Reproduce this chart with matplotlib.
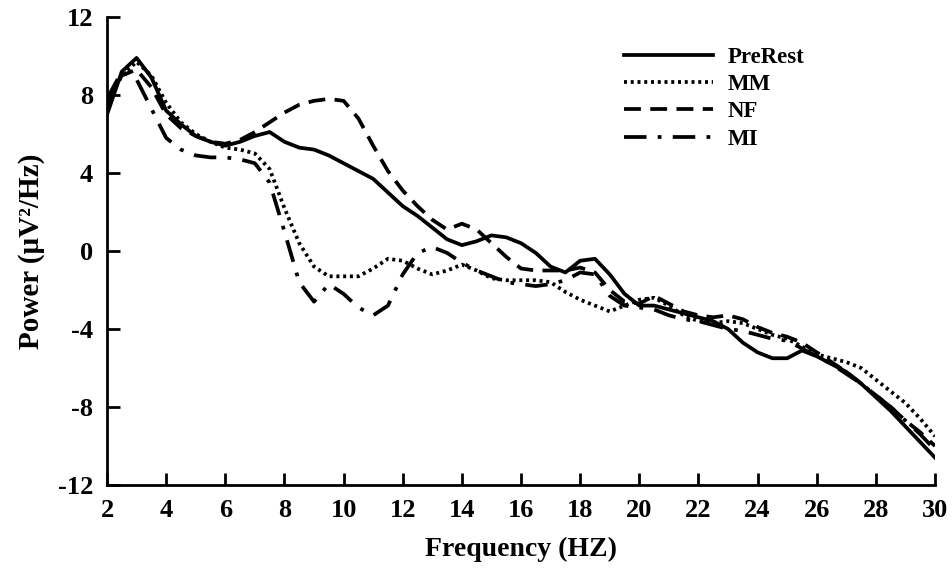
import matplotlib.pyplot as plt

plt.rcParams['font.family'] = ['Liberation Serif', 'DejaVu Serif']
plt.rcParams['font.weight'] = 'bold'
plt.rcParams['axes.unicode_minus'] = False

freq = [2 + 0.5 * i for i in range(57)]

prerest = [7.0, 9.2, 9.9, 8.9, 7.2, 6.5, 5.9, 5.6, 5.4, 5.6, 5.9, 6.1, 5.6, 5.3, 5.2,
           4.9, 4.5, 4.1, 3.7, 3.0, 2.3, 1.8, 1.2, 0.6, 0.3, 0.5, 0.8, 0.7, 0.4, -0.1,
           -0.8, -1.1, -0.5, -0.4, -1.2, -2.2, -2.8, -2.8, -3.0, -3.2, -3.4, -3.6, -4.0,
           -4.7, -5.2, -5.5, -5.5, -5.1, -5.4, -5.8, -6.2, -6.8, -7.5, -8.2, -9.0, -9.8,
           -10.6]
mm = [7.5, 9.0, 9.7, 9.0, 7.6, 6.6, 6.0, 5.6, 5.3, 5.2, 5.0, 4.2, 2.2, 0.4, -0.8,
      -1.3, -1.3, -1.3, -0.9, -0.4, -0.5, -0.9, -1.2, -1.0, -0.7, -1.0, -1.4, -1.5,
      -1.5, -1.5, -1.6, -2.1, -2.5, -2.8, -3.1, -2.8, -2.5, -2.4, -2.8, -3.3, -3.6,
      -3.7, -3.6, -3.7, -4.0, -4.3, -4.5, -4.9, -5.3, -5.5, -5.7, -6.0, -6.6, -7.2,
      -7.8, -8.6, -9.5]
nf = [7.6, 9.0, 9.3, 8.4, 7.0, 6.3, 5.9, 5.6, 5.5, 5.7, 6.1, 6.6, 7.1, 7.5, 7.7,
      7.8, 7.7, 6.8, 5.4, 4.1, 3.1, 2.3, 1.6, 1.1, 1.4, 1.1, 0.4, -0.3, -0.9, -1.0,
      -1.0, -1.0, -0.85, -1.1, -2.0, -2.6, -2.7, -2.3, -2.7, -3.1, -3.3, -3.4, -3.3,
      -3.5, -3.9, -4.2, -4.4, -4.7, -5.2, -5.7, -6.2, -6.8, -7.4, -8.0, -8.7, -9.3,
      -10.0]
mi = [7.8, 9.2, 8.8, 7.3, 5.8, 5.2, 4.9, 4.8, 4.8, 4.7, 4.5, 3.5, 1.0, -1.6, -2.6,
      -1.7, -2.2, -2.9, -3.3, -2.8, -1.2, -0.1, 0.2, -0.1, -0.6, -1.0, -1.3, -1.6,
      -1.7, -1.8, -1.7, -1.5, -1.1, -1.2, -2.3, -2.8, -2.9, -3.0, -3.3, -3.5, -3.6,
      -3.8, -4.0, -4.1, -4.3, -4.5, -4.6, -5.0, -5.4, -5.8, -6.3, -6.8, -7.4, -8.0,
      -8.7, -9.4, -10.2]

xticks = list(range(2, 31, 2))
yticks = list(range(-12, 13, 4))

fig = plt.figure(figsize=(9.52, 5.76), dpi=100)
ax = fig.add_axes([0.1124, 0.158, 0.8698, 0.8125])

ax.plot(freq, prerest, color='black', lw=2.7, ls='-', label='PreRest')
ax.plot(freq, mm, color='black', lw=2.7, ls=(0, (0.8, 1.0)), label='MM')
ax.plot(freq, nf, color='black', lw=2.7, ls=(0, (4.5, 2.5)), label='NF')
ax.plot(freq, mi, color='black', lw=2.7, ls=(0, (6, 3, 1, 3)), label='MI')

ax.set_xlim(2, 30)
ax.set_ylim(-12, 12)
ax.set_xticks(xticks)
ax.set_yticks(yticks)
ax.tick_params(direction='in', length=9, width=2, labelsize=19)
ax.tick_params(axis='x', pad=10)
ax.tick_params(axis='y', pad=10)
for lab in ax.get_xticklabels() + ax.get_yticklabels():
    lab.set_fontweight('bold')

for s in ['top', 'right']:
    ax.spines[s].set_visible(False)
for s in ['left', 'bottom']:
    ax.spines[s].set_linewidth(2)

ax.set_xlabel('Frequency (HZ)', fontsize=20, fontweight='bold', labelpad=11)
ax.set_ylabel('Power (μV²/Hz)', fontsize=21, fontweight='bold', labelpad=9)

ax.legend(loc='upper left', bbox_to_anchor=(0.6, 0.98), frameon=False,
          fontsize=16.5, handlelength=3.85, handletextpad=0.65, labelspacing=0.27)

fig.savefig('out.png')
